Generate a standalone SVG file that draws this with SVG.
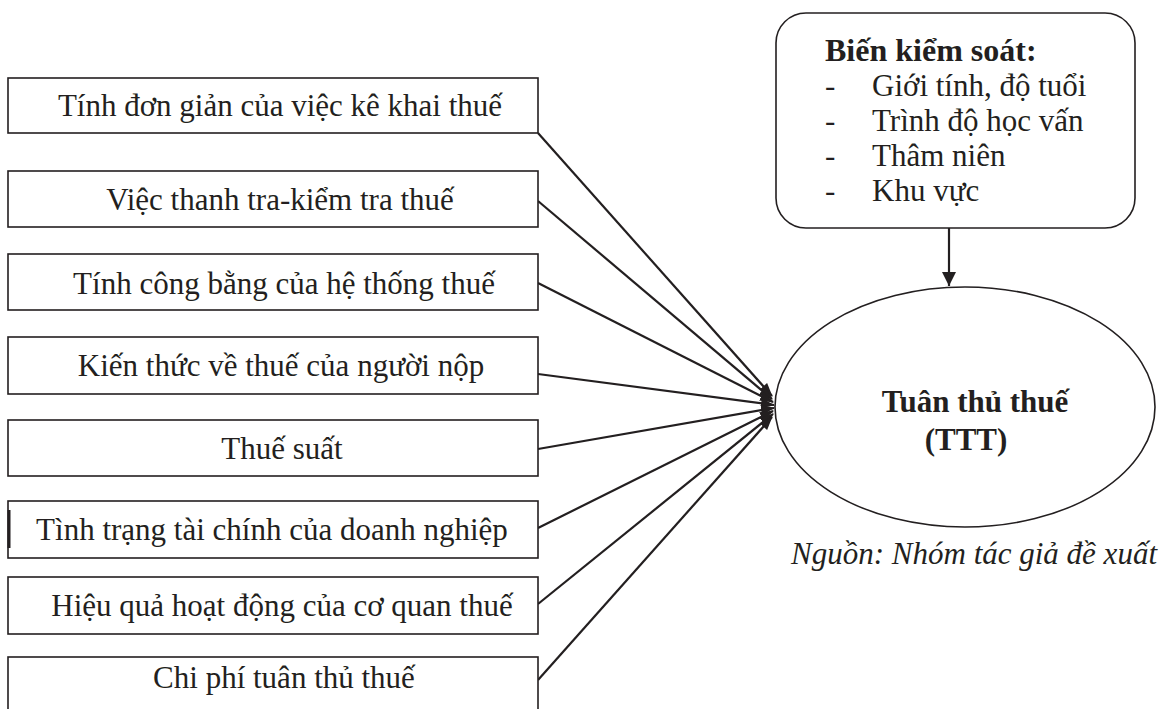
<svg xmlns="http://www.w3.org/2000/svg" width="1164" height="709" viewBox="0 0 1164 709">
<style>
.box{fill:#fff;stroke:#231f20;stroke-width:1.6}
.t{font-family:"Liberation Serif","DejaVu Serif",serif;font-size:31px;fill:#231f20}
.b{font-weight:bold}
.c{text-anchor:middle}
.i{font-style:italic}
.ln{stroke:#231f20;stroke-width:2.2;fill:none}
</style>
<defs>
<marker id="ah" markerWidth="14" markerHeight="10" refX="13" refY="5" orient="auto" markerUnits="userSpaceOnUse">
<path d="M0,0 L14,5 L0,10 Z" fill="#231f20"/>
</marker>
<marker id="ahv" markerWidth="16" markerHeight="14" refX="14" refY="7" orient="auto" markerUnits="userSpaceOnUse">
<path d="M0,0 L14,7 L0,14 Z" fill="#231f20"/>
</marker>
</defs>
<rect width="1164" height="709" fill="#fff"/>
<g id="connectors">
<line class="ln" x1="538" y1="133" x2="772" y2="396" marker-end="url(#ah)"/>
<line class="ln" x1="538" y1="201" x2="772" y2="399" marker-end="url(#ah)"/>
<line class="ln" x1="538" y1="283" x2="773" y2="402" marker-end="url(#ah)"/>
<line class="ln" x1="538" y1="374" x2="774" y2="405" marker-end="url(#ah)"/>
<line class="ln" x1="538" y1="449" x2="774" y2="408" marker-end="url(#ah)"/>
<line class="ln" x1="538" y1="528" x2="773" y2="411" marker-end="url(#ah)"/>
<line class="ln" x1="538" y1="604" x2="773" y2="414" marker-end="url(#ah)"/>
<line class="ln" x1="538" y1="680" x2="772" y2="417" marker-end="url(#ah)"/>
<line class="ln" x1="949" y1="228" x2="949" y2="286" marker-end="url(#ahv)"/>
</g>
<g id="n1"><rect class="box" x="8" y="78" width="530" height="55"/><text class="t c" x="280" y="116">Tính đơn giản của việc kê khai thuế</text></g>
<g id="n2"><rect class="box" x="8" y="171" width="530" height="56"/><text class="t c" x="280" y="210">Việc thanh tra-kiểm tra thuế</text></g>
<g id="n3"><rect class="box" x="8" y="254" width="530" height="56"/><text class="t c" x="284" y="294">Tính công bằng của hệ thống thuế</text></g>
<g id="n4"><rect class="box" x="8" y="337" width="530" height="57"/><text class="t c" x="281" y="376">Kiến thức về thuế của người nộp</text></g>
<g id="n5"><rect class="box" x="8" y="420" width="530" height="56"/><text class="t c" x="282" y="459">Thuế suất</text></g>
<g id="n6"><rect class="box" x="8" y="501" width="530" height="57"/><line x1="9" y1="510" x2="9" y2="548" stroke="#231f20" stroke-width="3"/><text class="t c" x="272" y="540">Tình trạng tài chính của doanh nghiệp</text></g>
<g id="n7"><rect class="box" x="8" y="577" width="530" height="57"/><text class="t c" x="282" y="616">Hiệu quả hoạt động của cơ quan thuế</text></g>
<g id="n8"><rect class="box" x="8" y="657" width="530" height="56"/><text class="t c" x="284" y="688">Chi phí tuân thủ thuế</text></g>
<g id="control">
<rect class="box" x="776" y="13" width="359" height="215" rx="30" ry="30"/>
<text class="t b" x="825" y="61" style="font-size:32px">Biến kiểm soát:</text>
<text class="t" x="825" y="96">-</text><text class="t" x="872" y="96">Giới tính, độ tuổi</text>
<text class="t" x="825" y="131">-</text><text class="t" x="872" y="131">Trình độ học vấn</text>
<text class="t" x="825" y="166">-</text><text class="t" x="872" y="166">Thâm niên</text>
<text class="t" x="825" y="201">-</text><text class="t" x="872" y="201">Khu vực</text>
</g>
<g id="ttt">
<ellipse cx="965" cy="407" rx="190" ry="120" fill="#fff" stroke="#231f20" stroke-width="1.6"/>
<text class="t b c" x="975" y="412">Tuân thủ thuế</text>
<text class="t b c" x="966" y="450">(TTT)</text>
</g>
<text class="t i" x="1157" y="564" text-anchor="end">Nguồn: Nhóm tác giả đề xuất</text>
</svg>
